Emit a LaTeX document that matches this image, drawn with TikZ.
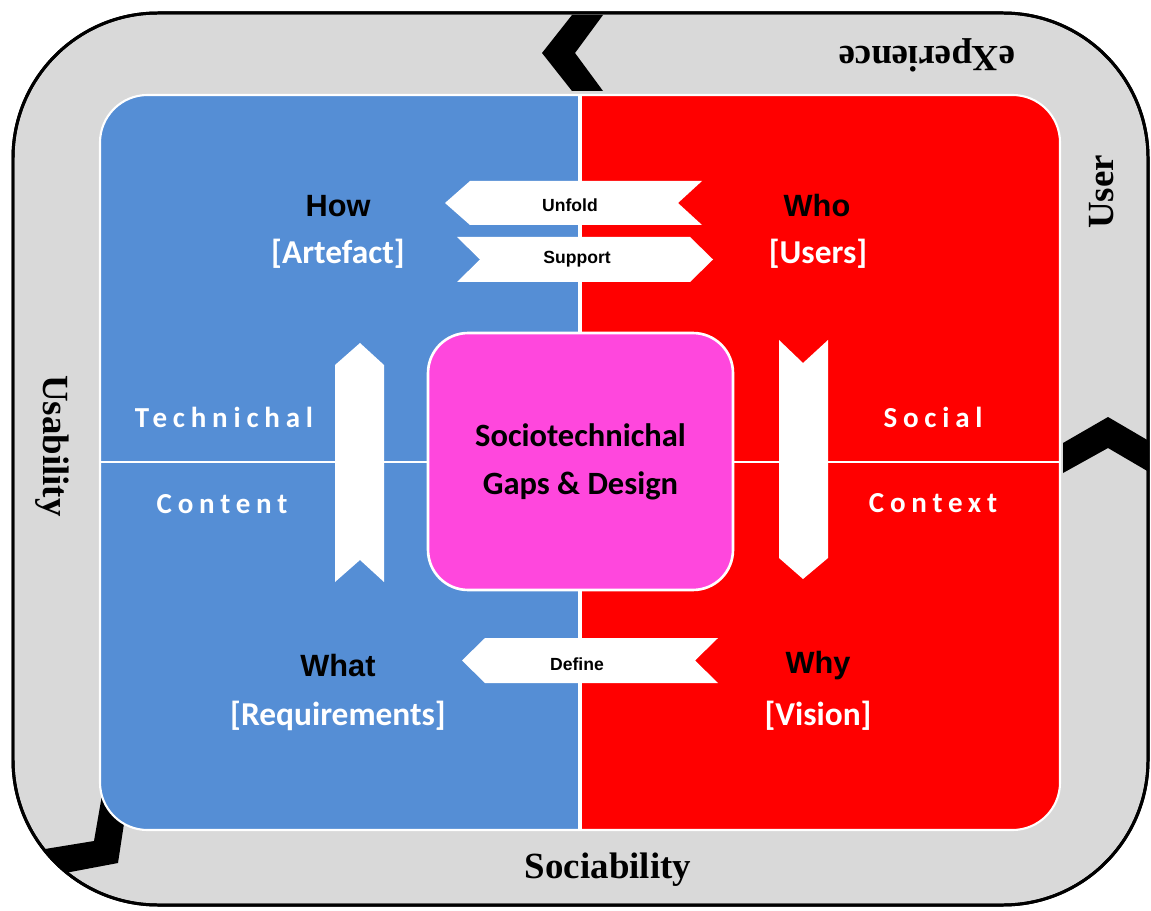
\documentclass[tikz,border=0pt]{standalone}
\usepackage{fontspec}
\usepackage{tkz-euclide}
\newfontfamily\serifb{Liberation Serif}
\newfontfamily\arialb{Liberation Sans}
\newfontfamily\calib{Carlito}
\definecolor{bandgray}{HTML}{D9D9D9}
\definecolor{techblue}{HTML}{558ED5}
\definecolor{socred}{HTML}{FF0000}
\definecolor{gappink}{HTML}{FF47DD}

\begin{document}
\begin{tikzpicture}[x=0.02cm,y=0.02cm,
  band/.style={font=\serifb\bfseries\fontsize{21}{25}\selectfont},
  ask/.style={font=\arialb\bfseries\fontsize{17.5}{21}\selectfont},
  thing/.style={text=white,font=\calib\bfseries\fontsize{19}{23}\selectfont},
  side/.style={text=white,font=\calib\bfseries\fontsize{16.5}{20}\selectfont\addfontfeature{LetterSpace=20}},
  tag/.style={font=\arialb\bfseries\fontsize{10}{12}\selectfont}]
\useasboundingbox (0,0) rectangle (1151,910);
\draw[line width=1.7pt,fill=bandgray,rounded corners=2.9cm] (13,5) rectangle (1148,897);
\tkzDefPoints{572/895/K1, 603/895/K2, 575/857/K3, 603/819/K4, 572/819/K5, 542/857/K6}
\tkzFillPolygon[color=black](K1,K2,K3,K4,K5,K6)
\tkzDefPoints{1063/467/L1, 1108/493/L2, 1149/469/L3, 1149/438/L4, 1108/462/L5, 1063/437/L6}
\tkzFillPolygon[color=black](L1,L2,L3,L4,L5,L6)
\tkzDefPoints{102/115/M1, 125/93/M2, 118/47/M3, 65/37/M4, 45/61/M5, 94/69/M6}
\tkzFillPolygon[color=black](M1,M2,M3,M4,M5,M6)
\draw[line width=1.7pt,rounded corners=2.9cm] (13,5) rectangle (1148,897);
\begin{scope}
\clip[rounded corners=0.95cm] (100,80) rectangle (1060,815);
\fill[techblue] (100,80) rectangle (580,815);
\fill[socred] (580,80) rectangle (1060,815);
\end{scope}
\draw[white,line width=2.2pt] (580,80) -- (580,815);
\draw[white,line width=1.7pt] (100,448) -- (1060,448);
\draw[white,line width=1.2pt,rounded corners=0.95cm] (100,80) rectangle (1060,815);
\tkzDefPoints{445/707/U1, 470/729/U2, 702/729/U3, 678/707/U4, 702/685/U5, 470/685/U6}
\tkzFillPolygon[color=white](U1,U2,U3,U4,U5,U6)
\tkzDefPoints{457/673/S1, 690/673/S2, 713/650.5/S3, 690/628/S4, 457/628/S5, 480/650.5/S6}
\tkzFillPolygon[color=white](S1,S2,S3,S4,S5,S6)
\tkzDefPoints{462/249.5/D1, 485/272/D2, 718/272/D3, 695/249.5/D4, 718/227/D5, 485/227/D6}
\tkzFillPolygon[color=white](D1,D2,D3,D4,D5,D6)
\tkzDefPoints{360/567/T1, 384/545/T2, 384/328/T3, 360/350/T4, 335/328/T5, 335/545/T6}
\tkzFillPolygon[color=white](T1,T2,T3,T4,T5,T6)
\tkzDefPoints{779/570/C1, 803/547/C2, 828/570/C3, 828/352/C4, 803/331/C5, 779/352/C6}
\tkzFillPolygon[color=white](C1,C2,C3,C4,C5,C6)
\node[draw=white,line width=1.5pt,fill=gappink,rounded corners=0.8cm,
  minimum width=6.1cm,minimum height=5.14cm,align=center,
  font=\calib\bfseries\fontsize{18.5}{27.3}\selectfont] (gap) at (580.5,448.5)
  {Sociotechnichal\\Gaps \& Design};
\node[band,rotate=180] (exp) at (927,855) {eXperience};
\node[band,rotate=90] (user) at (1102,718) {User};
\node[band,rotate=-90] (usab) at (52,464) {Usability};
\node[band] (soc) at (608,40) {Sociability};
\node[ask] (how) at (338,704) {How};
\node[ask] (who) at (817,704) {Who};
\node[ask] (what) at (338,244) {What};
\node[ask] (why) at (818,244) {Why};
\node[thing] (art) at (338,656) {[Artefact]};
\node[thing] (users) at (818,656) {[Users]};
\node[thing] (req) at (338,194) {[Requirements]};
\node[thing] (vis) at (818,194) {[Vision]};
\node[side] (tech) at (224,493) {Technichal};
\node[side] (cont) at (222,406) {Content};
\node[side] (soci) at (933,493) {Social};
\node[side] (ctx) at (933,407) {Context};
\node[tag] (unf) at (570,705) {Unfold};
\node[tag] (sup) at (577,651) {Support};
\node[tag] (def) at (577,246) {Define};
\end{tikzpicture}
\end{document}
